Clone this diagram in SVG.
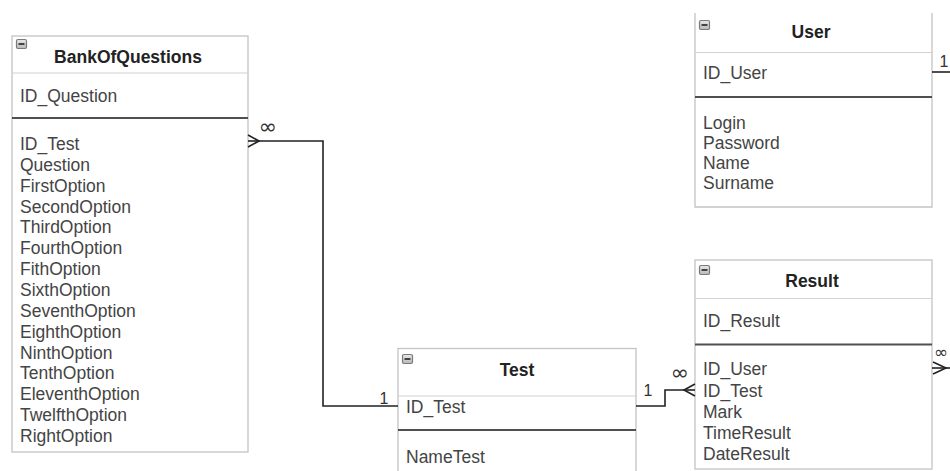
<svg xmlns="http://www.w3.org/2000/svg" width="950" height="471" viewBox="0 0 950 471">
<style>
.box{fill:#fff;stroke:#c4c4c4;stroke-width:1.3}
.sep{stroke:#d2d2d2;stroke-width:1.2}
.pk{stroke:#505050;stroke-width:2}
.title{font-family:"Liberation Sans",Arial,sans-serif;font-size:17.5px;font-weight:bold;fill:#222;text-anchor:middle}
.attr{font-family:"Liberation Sans",Arial,sans-serif;font-size:17.5px;fill:#444}
.conn{stroke:#222;stroke-width:1.6;fill:none}
.lbl{font-family:"Liberation Sans","DejaVu Sans",sans-serif;font-size:16px;fill:#333;text-anchor:middle}
.inf{font-family:"DejaVu Sans",sans-serif;font-size:22px;fill:#333;text-anchor:middle}
</style>
<defs>
<linearGradient id="ig" x1="0" y1="0" x2="0" y2="1"><stop offset="0" stop-color="#e8e8e8"/><stop offset="1" stop-color="#b8b8b8"/></linearGradient>
<g id="ico"><rect x="0.5" y="0.5" width="10" height="9" rx="1.5" fill="url(#ig)" stroke="#7a7a7a" stroke-width="1.2"/><line x1="2.5" y1="5" x2="8.5" y2="5" stroke="#333" stroke-width="1.8"/></g>
</defs>
<rect width="950" height="471" fill="#fff"/>

<g id="BankOfQuestions">
<rect class="box" x="12" y="36" width="236" height="416"/>
<use href="#ico" x="16" y="39"/>
<text class="title" x="128" y="63">BankOfQuestions</text>
<line class="sep" x1="12" y1="73" x2="248" y2="73"/>
<text class="attr" x="20" y="102">ID_Question</text>
<line class="pk" x1="12" y1="118" x2="248" y2="118"/>
<text class="attr" x="20" y="150">ID_Test</text>
<text class="attr" x="20" y="170.9">Question</text>
<text class="attr" x="20" y="191.7">FirstOption</text>
<text class="attr" x="20" y="212.6">SecondOption</text>
<text class="attr" x="20" y="233.4">ThirdOption</text>
<text class="attr" x="20" y="254.3">FourthOption</text>
<text class="attr" x="20" y="275.1">FithOption</text>
<text class="attr" x="20" y="296">SixthOption</text>
<text class="attr" x="20" y="316.8">SeventhOption</text>
<text class="attr" x="20" y="337.7">EighthOption</text>
<text class="attr" x="20" y="358.5">NinthOption</text>
<text class="attr" x="20" y="379.4">TenthOption</text>
<text class="attr" x="20" y="400.2">EleventhOption</text>
<text class="attr" x="20" y="421.1">TwelfthOption</text>
<text class="attr" x="20" y="442">RightOption</text>
</g>

<g id="User">
<path class="box" d="M695,13 V207 H932 V13"/>
<use href="#ico" x="699" y="20"/>
<text class="title" x="811" y="38">User</text>
<line class="sep" x1="695" y1="52.5" x2="932" y2="52.5"/>
<text class="attr" x="703" y="78.5">ID_User</text>
<line class="pk" x1="695" y1="97" x2="932" y2="97"/>
<text class="attr" x="703" y="128.5">Login</text>
<text class="attr" x="703" y="148.5">Password</text>
<text class="attr" x="703" y="168.5">Name</text>
<text class="attr" x="703" y="188.5">Surname</text>
</g>

<g id="Result">
<rect class="box" x="695" y="260" width="237" height="209"/>
<use href="#ico" x="699" y="265"/>
<text class="title" x="812" y="287">Result</text>
<line class="sep" x1="695" y1="298.5" x2="932" y2="298.5"/>
<text class="attr" x="703" y="327">ID_Result</text>
<line class="pk" x1="695" y1="344.5" x2="932" y2="344.5"/>
<text class="attr" x="703" y="375">ID_User</text>
<text class="attr" x="703" y="396.5">ID_Test</text>
<text class="attr" x="703" y="417.7">Mark</text>
<text class="attr" x="703" y="439">TimeResult</text>
<text class="attr" x="703" y="459.5">DateResult</text>
</g>

<g id="Test">
<rect class="box" x="398" y="348.5" width="238" height="140"/>
<use href="#ico" x="402" y="354"/>
<text class="title" x="517" y="376">Test</text>
<line class="sep" x1="398" y1="396" x2="636" y2="396"/>
<text class="attr" x="406" y="413">ID_Test</text>
<line class="pk" x1="398" y1="430" x2="636" y2="430"/>
<text class="attr" x="406" y="463">NameTest</text>
</g>

<g id="connectors">
<polyline class="conn" points="259,141 323,141 323,406 398,406"/>
<polyline class="conn" points="248,135 259,141 248,147"/>
<line class="conn" x1="248" y1="141" x2="259" y2="141"/>
<text class="inf" x="268" y="134">∞</text>
<text class="lbl" x="384" y="404">1</text>

<polyline class="conn" points="636,406 665,406 665,390 684,390"/>
<polyline class="conn" points="695,384 684,390 695,396"/>
<line class="conn" x1="684" y1="390" x2="695" y2="390"/>
<text class="inf" x="680" y="380">∞</text>
<text class="lbl" x="648" y="396">1</text>

<line class="conn" x1="932" y1="72" x2="950" y2="72"/>
<text class="lbl" x="944" y="67">1</text>

<polyline class="conn" points="933,362 946,368 933,374"/>
<line class="conn" x1="932" y1="368" x2="950" y2="368"/>
<text class="inf" x="941" y="358" style="font-size:17px">∞</text>
</g>
</svg>
